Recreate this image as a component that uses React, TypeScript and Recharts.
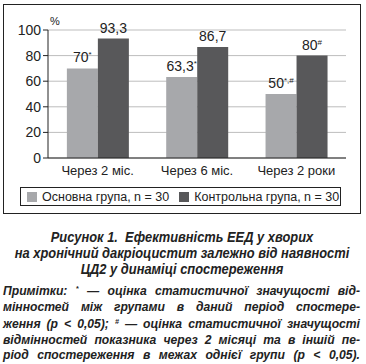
import React from "react";
import {
  BarChart,
  Bar,
  XAxis,
  YAxis,
  CartesianGrid,
  LabelList,
  Legend,
} from "recharts";

const periods = ["Через 2 міс.", "Через 6 міс.", "Через 2 роки"];
const mainGroup = [70, 63.3, 50];
const controlGroup = [93.3, 86.7, 80];
const mainMarks = ["*", "*", "*,#"];
const controlMarks = ["", "", "#"];
const seriesNames = ["Основна група, n = 30", "Контрольна група, n = 30"];
const yTicks = [0, 20, 40, 60, 80, 100];
const boundTicks = [0, 1, 2, 3];

const COLORS = ["#a7a8ab", "#58585a"];
const FONT = "'Liberation Sans', Arial, sans-serif";

const data = periods.map((p, i) => ({
  period: p,
  main: mainGroup[i],
  control: controlGroup[i],
}));

const fmt = (v: number) => String(v).replace(".", ",");

// label above a bar with a small superscript mark
const makeLabel = (marks: string[]) => (props: any) => {
  const { x, y, width, value, index } = props;
  const mark = marks[index];
  return (
    <text
      x={x + width / 2}
      y={y - 6}
      textAnchor="middle"
      fontSize={14}
      fontFamily={FONT}
      fill="#222"
    >
      {fmt(value)}
      {mark ? (
        <tspan dy={-5} fontSize={8}>
          {mark}
        </tspan>
      ) : null}
    </text>
  );
};

const LegendBox = () => (
  <div
    style={{
      border: "1px solid #222",
      height: 19,
      display: "flex",
      alignItems: "center",
      fontFamily: FONT,
      fontSize: 12.5,
      color: "#222",
      paddingLeft: 6,
      boxSizing: "border-box",
      whiteSpace: "nowrap",
    }}
  >
    {seriesNames.map((name, i) => (
      <span
        key={name}
        style={{ display: "flex", alignItems: "center", marginRight: 10 }}
      >
        <span
          style={{
            display: "inline-block",
            width: 10,
            height: 10,
            background: COLORS[i],
            marginRight: 5,
          }}
        />
        {name}
      </span>
    ))}
  </div>
);

const PercentLabel = (props: any) => {
  const { viewBox } = props;
  return (
    <text
      x={viewBox.x + viewBox.width + 2}
      y={viewBox.y - 5}
      fontSize={11}
      fontFamily={FONT}
      fill="#222"
    >
      %
    </text>
  );
};

const captionStyle: React.CSSProperties = {
  fontFamily: FONT,
  fontWeight: "bold",
  fontStyle: "italic",
  color: "#222",
  transformOrigin: "left top",
};

const sup = (s: string) => (
  <span style={{ fontSize: 8, verticalAlign: "4px" }}>{s}</span>
);

const noteLines = [
  <>Примітки: {sup("*")} — оцінка статистичної значущості від-</>,
  <>мінностей між групами в даний період спостере-</>,
  <>ження (p &lt; 0,05); {sup("#")} — оцінка статистичної значущості</>,
  <>відмінностей показника через 2 місяці та в іншій пе-</>,
  <>ріод спостереження в межах однієї групи (p &lt; 0,05).</>,
];

const NOTE_SCALE = 0.9;
const CAP_SCALE = 0.92;

export default function App() {
  return (
    <div
      style={{
        position: "absolute",
        left: 0,
        top: 0,
        width: 366,
        height: 364,
        background: "#fff",
        overflow: "hidden",
      }}
    >
      <div
        style={{
          position: "absolute",
          left: 3,
          top: 4,
          width: 358,
          height: 210,
          border: "1.5px solid #222",
          boxSizing: "border-box",
        }}
      >
        <BarChart
          width={356}
          height={207}
          data={data}
          margin={{ top: 25, right: 14, left: 4, bottom: 32 }}
          barCategoryGap="19%"
          barGap={0}
        >
          <CartesianGrid vertical={false} stroke="#bdbdbd" xAxisId="cat" />
          <XAxis
            xAxisId="bounds"
            type="number"
            domain={[0, 3]}
            ticks={boundTicks}
            tick={false}
            tickSize={5}
            axisLine={false}
            height={0}
            stroke="#222"
          />
          <XAxis
            xAxisId="cat"
            dataKey="period"
            tickLine={false}
            axisLine={{ stroke: "#222" }}
            tick={{ fontSize: 13, fill: "#222", fontFamily: FONT }}
            height={22}
            interval={0}
          />
          <YAxis
            domain={[0, 100]}
            ticks={yTicks}
            width={40}
            tickSize={5}
            stroke="#222"
            tick={{ fontSize: 14, fill: "#222", fontFamily: FONT }}
            label={<PercentLabel />}
          />
          <Bar
            xAxisId="cat"
            dataKey="main"
            name={seriesNames[0]}
            fill={COLORS[0]}
            isAnimationActive={false}
          >
            <LabelList dataKey="main" content={makeLabel(mainMarks)} />
          </Bar>
          <Bar
            xAxisId="cat"
            dataKey="control"
            name={seriesNames[1]}
            fill={COLORS[1]}
            isAnimationActive={false}
          >
            <LabelList dataKey="control" content={makeLabel(controlMarks)} />
          </Bar>
          <Legend
            layout="horizontal"
            verticalAlign="middle"
            align="center"
            content={<LegendBox />}
            wrapperStyle={{ top: 182, left: 16, width: 321 }}
          />
        </BarChart>
      </div>
      <div
        style={{
          ...captionStyle,
          position: "absolute",
          left: 3,
          top: 229,
          width: 358 / CAP_SCALE,
          transform: `scaleX(${CAP_SCALE})`,
          textAlign: "center",
          fontSize: 14,
          lineHeight: "16px",
        }}
      >
        Рисунок 1.&nbsp; Ефективність ЕЕД у хворих
        <br />
        на хронічний дакріоцистит залежно від наявності
        <br />
        ЦД2 у динаміці спостереження
      </div>
      <div
        style={{
          ...captionStyle,
          position: "absolute",
          left: 3,
          top: 281,
          width: 357 / NOTE_SCALE,
          transform: `scaleX(${NOTE_SCALE})`,
          fontSize: 13.5,
          lineHeight: "15.5px",
        }}
      >
        {noteLines.map((line, i) => (
          <div
            key={i}
            style={{ textAlign: "justify", textAlignLast: "justify" }}
          >
            {line}
          </div>
        ))}
      </div>
    </div>
  );
}
